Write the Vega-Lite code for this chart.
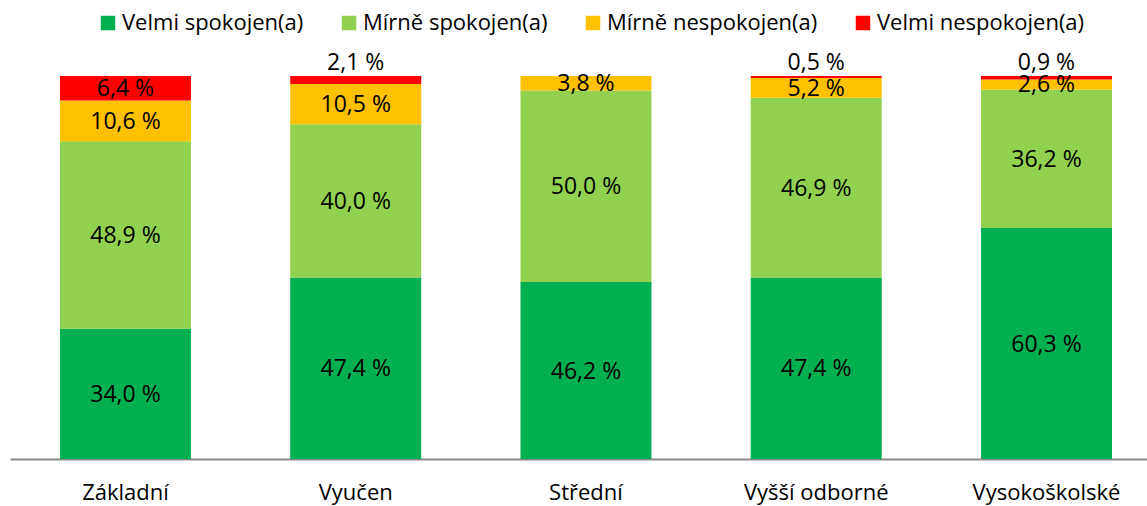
{
  "$schema": "https://vega.github.io/schema/vega-lite/v6.json",
  "width": 1137,
  "height": 383,
  "autosize": {"type": "none"},
  "padding": {"left": 10, "top": 76, "right": 0, "bottom": 47},
  "background": "white",
  "config": {"view": {"stroke": null}, "font": "Open Sans"},
  "data": {
    "values": [
      {"cat": "Základní", "series": "Velmi spokojen(a)", "value": 34.0},
      {"cat": "Základní", "series": "Mírně spokojen(a)", "value": 48.9},
      {"cat": "Základní", "series": "Mírně nespokojen(a)", "value": 10.6},
      {"cat": "Základní", "series": "Velmi nespokojen(a)", "value": 6.4},
      {"cat": "Vyučen", "series": "Velmi spokojen(a)", "value": 47.4},
      {"cat": "Vyučen", "series": "Mírně spokojen(a)", "value": 40.0},
      {"cat": "Vyučen", "series": "Mírně nespokojen(a)", "value": 10.5},
      {"cat": "Vyučen", "series": "Velmi nespokojen(a)", "value": 2.1},
      {"cat": "Střední", "series": "Velmi spokojen(a)", "value": 46.2},
      {"cat": "Střední", "series": "Mírně spokojen(a)", "value": 50.0},
      {"cat": "Střední", "series": "Mírně nespokojen(a)", "value": 3.8},
      {"cat": "Vyšší odborné", "series": "Velmi spokojen(a)", "value": 47.4},
      {"cat": "Vyšší odborné", "series": "Mírně spokojen(a)", "value": 46.9},
      {"cat": "Vyšší odborné", "series": "Mírně nespokojen(a)", "value": 5.2},
      {"cat": "Vyšší odborné", "series": "Velmi nespokojen(a)", "value": 0.5},
      {"cat": "Vysokoškolské", "series": "Velmi spokojen(a)", "value": 60.3},
      {"cat": "Vysokoškolské", "series": "Mírně spokojen(a)", "value": 36.2},
      {"cat": "Vysokoškolské", "series": "Mírně nespokojen(a)", "value": 2.6},
      {"cat": "Vysokoškolské", "series": "Velmi nespokojen(a)", "value": 0.9}
    ]
  },
  "transform": [
    {"calculate": "indexof(['Velmi spokojen(a)','Mírně spokojen(a)','Mírně nespokojen(a)','Velmi nespokojen(a)'], datum.series)", "as": "ord"},
    {"stack": "value", "groupby": ["cat"], "sort": [{"field": "ord", "order": "ascending"}], "offset": "normalize", "as": ["v0", "v1"]},
    {"calculate": "(datum.v0 + datum.v1) / 2", "as": "mid"},
    {"calculate": "replace(format(datum.value, '.1f'), '.', ',') + ' %'", "as": "label"},
    {"calculate": "datum.ord == 3 && datum.value < 2.5", "as": "small"}
  ],
  "encoding": {
    "x": {
      "field": "cat",
      "type": "nominal",
      "sort": ["Základní", "Vyučen", "Střední", "Vyšší odborné", "Vysokoškolské"],
      "scale": {"paddingInner": 0.4311, "paddingOuter": 0.1845, "align": 0.588, "round": false},
      "axis": {
        "title": null,
        "labelAngle": 0,
        "ticks": false,
        "domainColor": "#898989",
        "domainWidth": 2,
        "labelFont": "Open Sans",
        "labelFontSize": 22,
        "labelColor": "#000000",
        "labelPadding": 23,
        "labelBaseline": "top"
      }
    }
  },
  "layer": [
    {
      "mark": {"type": "bar"},
      "encoding": {
        "y": {"field": "v0", "type": "quantitative", "scale": {"domain": [0, 1], "nice": false, "zero": true}, "axis": null},
        "y2": {"field": "v1"},
        "color": {
          "field": "series",
          "type": "nominal",
          "sort": null,
          "scale": {
            "domain": ["Velmi spokojen(a)", "Mírně spokojen(a)", "Mírně nespokojen(a)", "Velmi nespokojen(a)"],
            "range": ["#00B050", "#92D050", "#FFC000", "#FF0000"]
          },
          "legend": {
            "title": null,
            "orient": "none",
            "direction": "horizontal",
            "legendX": 87,
            "legendY": -64,
            "symbolType": "square",
            "symbolSize": 210,
            "symbolStrokeWidth": 0,
            "symbolOpacity": 1,
            "labelFont": "Open Sans",
            "labelFontSize": 22,
            "labelColor": "#000000",
            "labelOffset": 3,
            "columnPadding": 34,
            "labelLimit": 400
          }
        }
      }
    },
    {
      "transform": [{"filter": "!datum.small"}],
      "mark": {"type": "text", "font": "Open Sans", "fontSize": 23, "color": "#000000", "baseline": "middle", "dy": 1},
      "encoding": {
        "y": {"field": "mid", "type": "quantitative"},
        "text": {"field": "label"}
      }
    },
    {
      "transform": [{"filter": "datum.small"}],
      "mark": {"type": "text", "font": "Open Sans", "fontSize": 23, "color": "#000000", "baseline": "alphabetic", "dy": -6},
      "encoding": {
        "y": {"field": "v1", "type": "quantitative"},
        "text": {"field": "label"}
      }
    }
  ]
}
